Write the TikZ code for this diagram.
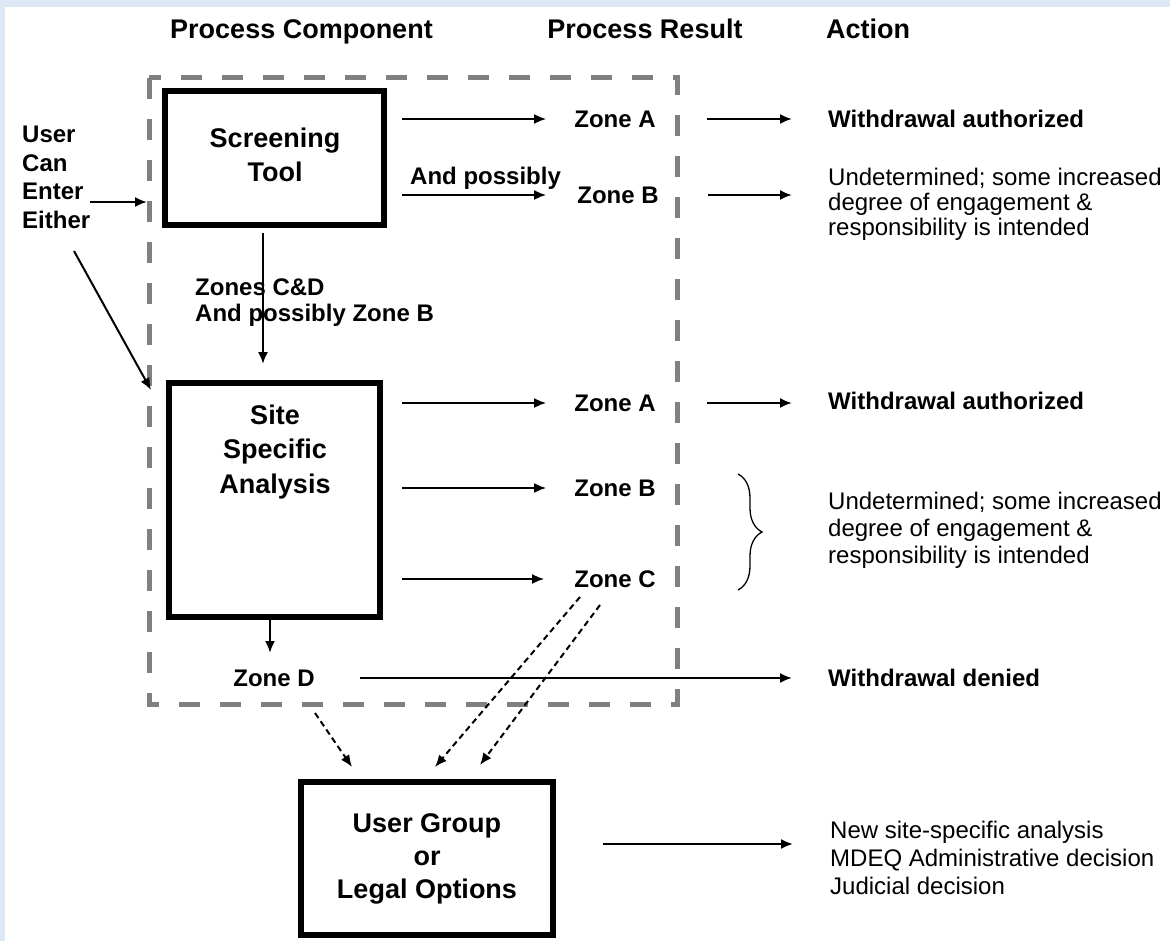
\documentclass[tikz,border=0pt]{standalone}
\usepackage{fontspec}
\setmainfont{Liberation Sans}
\usetikzlibrary{arrows.meta,decorations.pathreplacing}
\definecolor{bgblue}{HTML}{DCE9F5}
\definecolor{dgray}{HTML}{808080}
\begin{document}
\begin{tikzpicture}[x=1pt,y=-1pt,
  hdr/.style={font=\fontsize{27}{30}\selectfont\bfseries, inner sep=0, anchor=base},
  lbl/.style={font=\fontsize{24}{26}\selectfont\bfseries, inner sep=0, align=left},
  txt/.style={font=\fontsize{24}{25}\selectfont, inner sep=0, align=left},
  boxtxt/.style={font=\fontsize{27}{34}\selectfont\bfseries, inner sep=0, align=center},
  bigbox/.style={draw, line width=6.5pt, inner sep=0},
  arr/.style={-{Latex[length=12pt,width=10pt]}, line width=2pt},
  darr/.style={-{Latex[length=12pt,width=10pt]}, line width=2pt, dash pattern=on 6pt off 4pt},
]
\useasboundingbox (0,0) rectangle (1170,941);
\fill[bgblue] (0,0) rectangle (1170,941);
\fill[white] (5,7) rectangle (1170,941);

% headers
\node[hdr] (pc) at (301.5,39) {Process Component};
\node[hdr] (pr) at (645,39) {Process Result};
\node[hdr, anchor=base west] (act) at (826,39) {Action};

% dashed frame
\draw[dgray, line width=5pt, dash pattern=on 21pt off 20pt] (149,78) rectangle (677,704);

% boxes
\node[bigbox, minimum width=219pt, minimum height=134pt] (scr) at (274.5,158) {};
\node[boxtxt] (scrt) at (275,155) {Screening\\Tool};
\node[bigbox, minimum width=211pt, minimum height=234pt] (site) at (274.5,500) {};
\node[boxtxt, font=\fontsize{27}{34.5}\selectfont\bfseries] (sitet) at (275,452) {Site\\Specific\\Analysis};
\node[bigbox, boxtxt, font=\fontsize{27}{33}\selectfont\bfseries, minimum width=252pt, minimum height=153pt] (ug) at (427,858.5) {User Group\\or\\Legal Options};

% user entry
\node[lbl, font=\fontsize{24}{28.5}\selectfont\bfseries, anchor=west] (uce) at (22,177.5) {User\\Can\\Enter\\Either};
\coordinate (entA) at (147,202);
\draw[arr] (uce.east |- entA) -- (entA);
\coordinate (diagS) at (74,251);
\coordinate (diagE) at (151,390);
\draw[arr] (diagS) -- (diagE);

% zone labels
\node[lbl] (zA1) at (615,119) {Zone A};
\node[lbl] (zB1) at (618,195) {Zone B};
\node[lbl] (zA2) at (615,403) {Zone A};
\node[lbl] (zB2) at (615,488) {Zone B};
\node[lbl] (zC2) at (615,579) {Zone C};
\node[lbl] (zD) at (274,678) {Zone D};
\node[lbl, anchor=west] (andp) at (410,178) {And possibly};
\node[lbl, anchor=west] (zcd) at (195,303) {Zones C\&D\\And possibly Zone B};

% actions
\node[lbl, anchor=west] (wa1) at (828,119) {Withdrawal authorized};
\node[txt, anchor=west] (und1) at (828,204) {Undetermined; some increased\\degree of engagement \&\\responsibility is intended};
\node[lbl, anchor=west] (wa2) at (828,401) {Withdrawal authorized};
\node[txt, font=\fontsize{24}{27}\selectfont, anchor=west] (und2) at (828,530) {Undetermined; some increased\\degree of engagement \&\\responsibility is intended};
\node[lbl, anchor=west] (wd) at (828,678) {Withdrawal denied};
\node[txt, font=\fontsize{24}{28}\selectfont, anchor=west] (opt) at (830,858) {New site-specific analysis\\MDEQ Administrative decision\\Judicial decision};

% arrows from screening tool
\draw[arr, shorten <=15pt, shorten >=28pt] (scr.east |- zA1) -- (zA1.west);
\draw[arr, shorten <=15pt, shorten >=31pt] (scr.east |- zB1) -- (zB1.west);
\draw[arr, shorten <=51pt, shorten >=36pt] (zA1.east) -- (zA1.east -| wa1.west);
\draw[arr, shorten <=49pt, shorten >=36pt] (zB1.east) -- (zB1.east -| und1.west);

% screening to site
\coordinate (cdtop) at (263,233);
\coordinate (cdbot) at (263,364);
\draw[arr] (cdtop) -- (cdbot);

% arrows from site analysis
\draw[arr, shorten <=19pt, shorten >=28pt] (site.east |- zA2) -- (zA2.west);
\draw[arr, shorten <=19pt, shorten >=28pt] (site.east |- zB2) -- (zB2.west);
\draw[arr, shorten <=19pt, shorten >=30pt] (site.east |- zC2) -- (zC2.west);
\draw[arr, shorten <=51pt, shorten >=36pt] (zA2.east) -- (zA2.east -| wa2.west);

% brace
\draw[line width=1.3pt, decorate, decoration={brace, amplitude=24pt}] (738,474) -- (738,590);

% site to zone D
\coordinate (zDtop) at (270,653);
\draw[arr] (site.south -| zDtop) -- (zDtop);
\draw[arr, shorten <=45pt, shorten >=36pt] (zD.east) -- (zD.east -| wd.west);

% dashed arrows to user group
\coordinate (d1s) at (315,713);
\coordinate (d1e) at (352,767);
\coordinate (d2s) at (580,597);
\coordinate (d2e) at (435,767);
\coordinate (d3s) at (600,605);
\coordinate (d3e) at (480,765);
\draw[darr] (d1s) -- (d1e);
\draw[darr] (d2s) -- (d2e);
\draw[darr] (d3s) -- (d3e);

% user group to options
\coordinate (optA) at (793,844);
\draw[arr, shorten <=47pt] (ug.east |- optA) -- (optA);
\end{tikzpicture}
\end{document}
